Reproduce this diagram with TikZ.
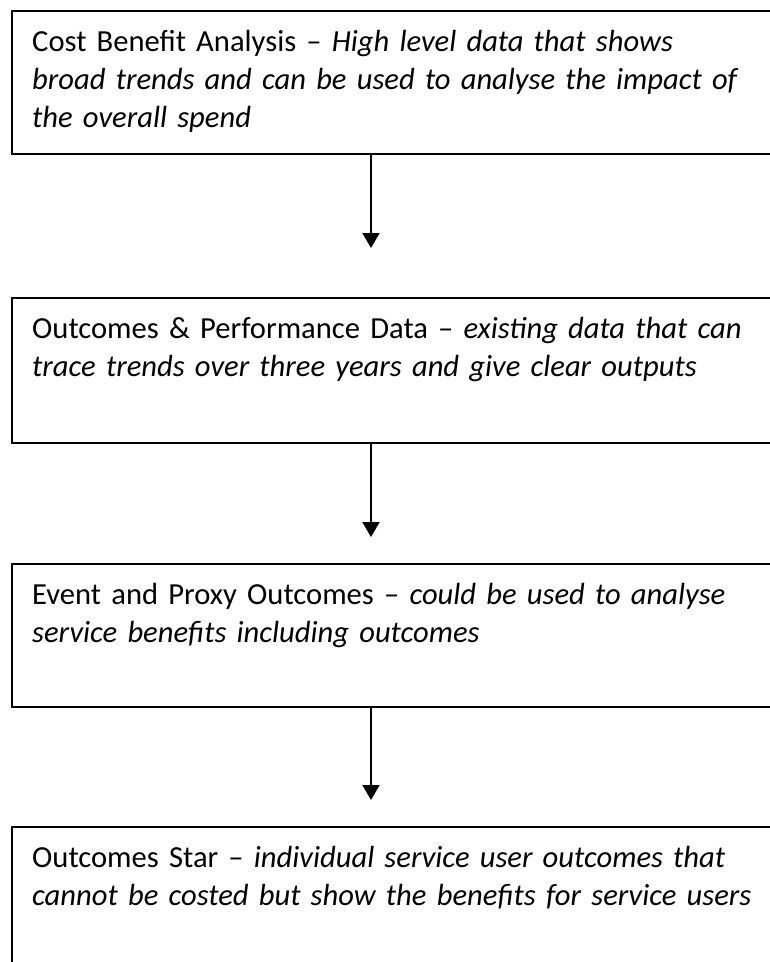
\documentclass[tikz,border=0pt]{standalone}
\usepackage{fontspec}
\setmainfont{Carlito}
\usetikzlibrary{positioning,arrows.meta}

\begin{document}
\begin{tikzpicture}[
            x=1pt, y=-1pt,
            box/.style={rectangle, draw, line width=2.2pt, minimum width=790pt, anchor=north west, inner sep=0pt},
            txt/.style={anchor=base west, text width=740pt, align=left, inner sep=0pt, font=\fontsize{30.6}{38}\selectfont},
            link/.style={-{Triangle[length=15pt, width=17pt]}, line width=2pt}
        ]
            \useasboundingbox (0,0) rectangle (770,962);
            \clip (0,0) rectangle (770,962);
            % Boxes
            \node[box, minimum height=143pt] (b1) at (11, 10) {};
            \node[box, minimum height=145pt] (b2) at (11,297) {};
            \node[box, minimum height=143pt] (b3) at (11,563) {};
            \node[box, minimum height=160pt] (b4) at (11,826) {};
            % Texts
            \node[txt] (t1) at (32, 51) {Cost Benefit Analysis -- \textit{High level data that shows}\\\textit{broad trends and can be used to analyse the impact of}\\\textit{the overall spend}};
            \node[txt] (t2) at (32,338) {Outcomes \& Performance Data -- \textit{existing data that can}\\\textit{trace trends over three years and give clear outputs}};
            \node[txt] (t3) at (32,604) {Event and Proxy Outcomes -- \textit{could be used to analyse}\\\textit{service benefits including outcomes}};
            \node[txt] (t4) at (32,867) {Outcomes Star -- \textit{individual service user outcomes that}\\\textit{cannot be costed but show the benefits for service users}};
            % Arrow ends
            \coordinate (e1) at (371,248);
            \coordinate (e2) at (371,537);
            \coordinate (e3) at (371,800);
            % Arrows
            \draw[link] (e1 |- b1.south) -- (e1);
            \draw[link] (e2 |- b2.south) -- (e2);
            \draw[link] (e3 |- b3.south) -- (e3);
        \end{tikzpicture}
\end{document}
